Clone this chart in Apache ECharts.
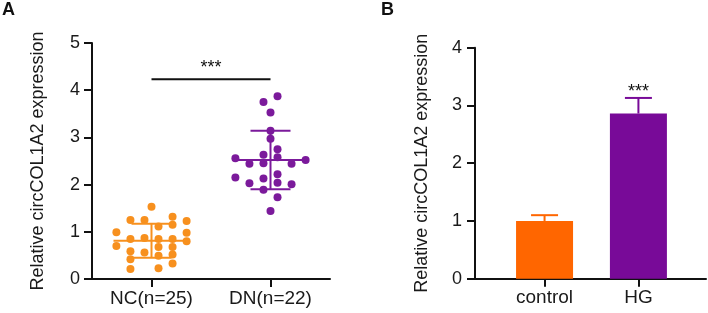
<!DOCTYPE html>
<html>
<head>
<meta charset="utf-8">
<script src="https://cdn.jsdelivr.net/npm/echarts@6/dist/echarts.min.js"></script>
<style>
  html, body { margin: 0; padding: 0; background: #fff; }
  #chart { width: 708px; height: 313px; }
</style>
</head>
<body>
<div id="chart"></div>
<script>
// Panel A: dot plot, each point is [jitter column, value]
const groupsA = ['NC(n=25)', 'DN(n=22)'];
const ncPoints = [
  [0, 1.53],
  [-3, 1.25], [-1, 1.25], [3, 1.32], [5, 1.23],
  [1, 1.11], [3, 1.15],
  [-5, 0.99], [5, 0.98],
  [-5, 0.70],
  [-3, 0.85], [-1, 0.87], [1, 0.85], [3, 0.85], [5, 0.80],
  [-3, 0.59], [-1, 0.56], [1, 0.68], [3, 0.68],
  [-3, 0.42], [1, 0.49], [3, 0.52],
  [-3, 0.21], [1, 0.23], [3, 0.33]
];
const dnPoints = [
  [1, 3.87], [-1, 3.75], [0, 3.53], [0, 3.14], [0, 2.97],
  [1, 2.75], [-1, 2.63], [1, 2.58],
  [-5, 2.56], [5, 2.52], [-3, 2.44], [-1, 2.45], [3, 2.44],
  [-5, 2.15], [-3, 2.03], [-1, 2.13], [1, 2.22], [1, 2.04], [3, 2.01],
  [-1, 1.89], [1, 1.73], [0, 1.44]
];
const meansA = [0.81, 2.52];
const sdsA = [0.36, 0.62];
const sigLevelA = 4.23;

// Panel B: bar chart with error bars
const groupsB = ['control', 'HG'];
const barValues = [1.00, 2.86];
const barErrors = [0.10, 0.27];
const sigB = ['', '***'];

const yTicksA = [0, 1, 2, 3, 4, 5];
const yTicksB = [0, 1, 2, 3, 4];

const dotColors = ['#F7901E', '#7B1A9B'];
const barColors = ['#FF6600', '#780A98'];
const FONT = 'Liberation Sans, Arial, sans-serif';
const JITTER = 0.059; // one jitter column in x units

const chart = echarts.init(document.getElementById('chart'));

const axisLine = { show: true, lineStyle: { color: '#111', width: 2 } };
const axisTick = { show: true, length: 8, lineStyle: { color: '#111', width: 2 } };
const labelStyle = { color: '#1a1a1a', fontSize: 18, fontFamily: FONT };

function toDots(points, groupIdx) {
  return points.map(p => [groupIdx + 1 + p[0] * JITTER, p[1]]);
}

function yAxisFor(gridIndex, ticks, gap, margin) {
  return {
    type: 'value', gridIndex,
    min: ticks[0], max: ticks[ticks.length - 1], interval: 1,
    name: 'Relative circCOL1A2 expression',
    nameLocation: 'middle', nameGap: gap,
    nameTextStyle: { color: '#1a1a1a', fontSize: 18, fontFamily: FONT },
    axisLine, axisTick, splitLine: { show: false },
    axisLabel: Object.assign({}, labelStyle, { margin })
  };
}

function xAxisFor(gridIndex, min, max, names) {
  return {
    type: 'value', gridIndex, min, max,
    axisLine, splitLine: { show: false },
    axisTick: Object.assign({ customValues: [1, 2] }, axisTick),
    axisLabel: Object.assign({}, labelStyle, {
      customValues: [1, 2], margin: 10, fontSize: 19,
      formatter: v => names[Math.round(v) - 1] || ''
    })
  };
}

const option = {
  animation: false,
  backgroundColor: '#fff',
  grid: [
    { left: 92, top: 43, width: 238, height: 236 },
    { left: 475, top: 47.7, width: 231, height: 231 }
  ],
  xAxis: [
    xAxisFor(0, 0.5, 2.5, groupsA),
    xAxisFor(1, 0.259, 2.72, groupsB)
  ],
  yAxis: [
    yAxisFor(0, yTicksA, 45, 12),
    yAxisFor(1, yTicksB, 44, 13)
  ],
  graphic: [
    { type: 'text', left: 2, top: 1, style: { text: 'A', font: 'bold 18px ' + FONT, fill: '#111' } },
    { type: 'text', left: 381, top: 1, style: { text: 'B', font: 'bold 18px ' + FONT, fill: '#111' } }
  ],
  series: [
    {
      type: 'scatter', xAxisIndex: 0, yAxisIndex: 0,
      symbolSize: 8, itemStyle: { color: dotColors[0], opacity: 1 },
      data: toDots(ncPoints, 0)
    },
    {
      type: 'scatter', xAxisIndex: 0, yAxisIndex: 0,
      symbolSize: 8, itemStyle: { color: dotColors[1], opacity: 1 },
      data: toDots(dnPoints, 1)
    },
    {
      // mean and SD whiskers
      type: 'custom', xAxisIndex: 0, yAxisIndex: 0, z: 3,
      data: meansA.map((m, i) => [i + 1, m, sdsA[i]]),
      renderItem(params, api) {
        const x = api.value(0), m = api.value(1), s = api.value(2);
        const c = api.coord([x, m]);
        const hi = api.coord([x, m + s]);
        const lo = api.coord([x, m - s]);
        const st = { stroke: dotColors[params.dataIndex], lineWidth: 2 };
        return {
          type: 'group', children: [
            { type: 'line', shape: { x1: c[0] - 38, y1: c[1], x2: c[0] + 38, y2: c[1] }, style: st },
            { type: 'line', shape: { x1: c[0], y1: hi[1], x2: c[0], y2: lo[1] }, style: st },
            { type: 'line', shape: { x1: c[0] - 20, y1: hi[1], x2: c[0] + 20, y2: hi[1] }, style: st },
            { type: 'line', shape: { x1: c[0] - 20, y1: lo[1], x2: c[0] + 20, y2: lo[1] }, style: st }
          ]
        };
      }
    },
    {
      // significance bracket
      type: 'custom', xAxisIndex: 0, yAxisIndex: 0,
      data: [[1, 2, sigLevelA]],
      renderItem(params, api) {
        const a = api.coord([api.value(0), api.value(2)]);
        const b = api.coord([api.value(1), api.value(2)]);
        return {
          type: 'group', children: [
            { type: 'line', shape: { x1: a[0], y1: a[1], x2: b[0], y2: b[1] }, style: { stroke: '#111', lineWidth: 2 } },
            { type: 'text', x: (a[0] + b[0]) / 2, y: a[1] - 11,
              style: { text: '***', font: '18px ' + FONT, fill: '#111', align: 'center', verticalAlign: 'middle' } }
          ]
        };
      }
    },
    {
      type: 'bar', xAxisIndex: 1, yAxisIndex: 1, barWidth: 57,
      data: barValues.map((v, i) => ({ value: [i + 1, v], itemStyle: { color: barColors[i] } }))
    },
    {
      // error bars + stars
      type: 'custom', xAxisIndex: 1, yAxisIndex: 1, z: 3,
      data: barValues.map((v, i) => [i + 1, v, barErrors[i]]),
      renderItem(params, api) {
        const x = api.value(0), v = api.value(1), e = api.value(2);
        const b = api.coord([x, v]);
        const t = api.coord([x, v + e]);
        const st = { stroke: barColors[params.dataIndex], lineWidth: 2 };
        return {
          type: 'group', children: [
            { type: 'line', shape: { x1: b[0], y1: b[1], x2: t[0], y2: t[1] }, style: st },
            { type: 'line', shape: { x1: t[0] - 13.5, y1: t[1], x2: t[0] + 13.5, y2: t[1] }, style: st },
            { type: 'text', x: t[0], y: t[1] - 6,
              style: { text: sigB[params.dataIndex], font: '18px ' + FONT, fill: '#111', align: 'center', verticalAlign: 'middle' } }
          ]
        };
      }
    }
  ]
};

chart.setOption(option);
</script>
</body>
</html>
